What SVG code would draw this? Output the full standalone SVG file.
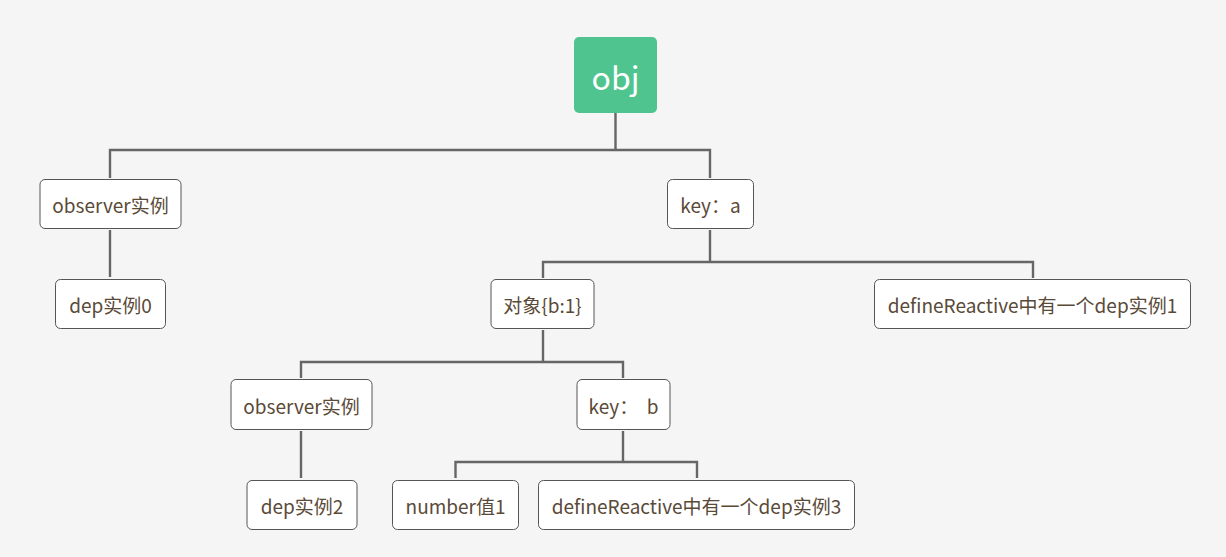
<svg xmlns="http://www.w3.org/2000/svg" width="1226" height="557" viewBox="0 0 1226 557">
<style>
.bg{fill:#f5f5f5}
.box{fill:#ffffff;stroke:#555555;stroke-width:1}
.t{font-family:"Microsoft YaHei","Noto Sans CJK SC",sans-serif;font-size:19px;fill:#5a4a38;text-anchor:middle;dominant-baseline:central}
.root{fill:#50c48f}
.rt{font-family:"Microsoft YaHei","Noto Sans CJK SC",sans-serif;font-size:32px;fill:#ffffff;text-anchor:middle;dominant-baseline:central}
.c{fill:none;stroke:#666666;stroke-width:2.4}
</style>
<rect class="bg" x="0" y="0" width="1226" height="557"/>
<g id="connectors">
<path class="c" d="M615.5 113 V150 M110 178 V150 H710 V178"/>
<path class="c" d="M110 230 V277"/>
<path class="c" d="M710 230 V262 M543 278 V262 H1033 V278"/>
<path class="c" d="M543 330 V362 M301 378 V362 H623 V378"/>
<path class="c" d="M301 431 V478"/>
<path class="c" d="M623 431 V462 M455.5 478 V462 H697 V478"/>
</g>
<g id="obj"><rect class="root" x="574" y="37" width="83" height="76" rx="5"/><text class="rt" x="615.5" y="76">obj</text></g>
<g id="observer0"><rect class="box" x="40" y="179.5" width="141" height="49" rx="5"/><text class="t" x="110.5" y="204">observer实例</text></g>
<g id="dep0"><rect class="box" x="55.5" y="279.5" width="110" height="49" rx="5"/><text class="t" x="110.5" y="304">dep实例0</text></g>
<g id="keya"><rect class="box" x="667.5" y="179.5" width="86" height="49" rx="5"/><text class="t" x="710.5" y="204">key：a</text></g>
<g id="objb"><rect class="box" x="491" y="279.5" width="103" height="49" rx="5"/><text class="t" x="542.5" y="304">对象{b:1}</text></g>
<g id="def1"><rect class="box" x="874.5" y="279.5" width="316" height="49" rx="5"/><text class="t" x="1032.5" y="304">defineReactive中有一个dep实例1</text></g>
<g id="observer2"><rect class="box" x="231" y="379.5" width="141" height="50" rx="5"/><text class="t" x="301.5" y="405">observer实例</text></g>
<g id="keyb"><rect class="box" x="577" y="379.5" width="93" height="50" rx="5"/><text class="t" x="623.5" y="405" xml:space="preserve">key：  b</text></g>
<g id="dep2"><rect class="box" x="247" y="480.5" width="110" height="49" rx="5"/><text class="t" x="302" y="505">dep实例2</text></g>
<g id="num1"><rect class="box" x="392.5" y="480.5" width="126" height="49" rx="5"/><text class="t" x="455.5" y="505">number值1</text></g>
<g id="def3"><rect class="box" x="538.5" y="480.5" width="316" height="49" rx="5"/><text class="t" x="696.5" y="505">defineReactive中有一个dep实例3</text></g>
</svg>
